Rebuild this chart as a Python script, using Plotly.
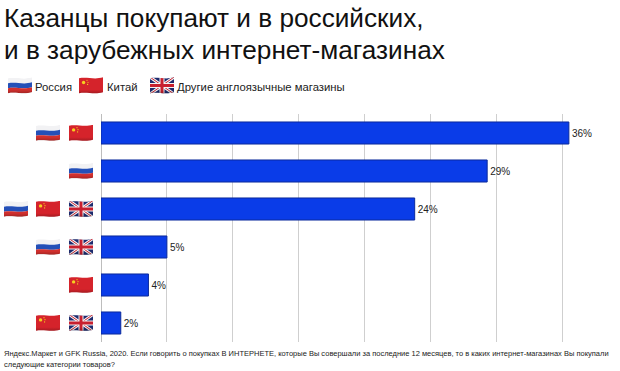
import base64
import plotly.graph_objects as go

# ---- data ----
categories = ["Россия + Китай", "Россия", "Россия + Китай + Другие", "Россия + Другие", "Китай", "Китай + Другие"]
values = [35.5, 29.3, 23.8, 5.0, 3.6, 1.5]
value_labels = ["36%", "29%", "24%", "5%", "4%", "2%"]
row_flags = [["ru", "cn"], ["ru"], ["ru", "cn", "gb"], ["ru", "gb"], ["cn"], ["cn", "gb"]]
legend_names = ["Россия", "Китай", "Другие англоязычные магазины"]
legend_flags = ["ru", "cn", "gb"]
title_lines = ["Казанцы покупают и в российских,", "и в зарубежных интернет-магазинах"]
note_lines = [
    "Яндекс.Маркет и GFK Russia, 2020. Если говорить о покупках В ИНТЕРНЕТЕ, которые Вы совершали за последние 12 месяцев, то в каких интернет-магазинах Вы покупали",
    "следующие категории товаров?",
]

W, H = 620, 371
PL, PR, PT, PB = 101, 616, 113.5, 342
FONT = "Liberation Sans, Arial, sans-serif"


def band(y0, y1):
    def edge(y):
        return f"C8,{y-1.8} 15,{y+1.8} 24,{y-1.0}"
    back = f"C15,{y1+1.8} 8,{y1-1.8} 0,{y1}"
    return f"M0,{y0} {edge(y0)} L24,{y1-1.0} {back} Z"


def flag_svg(kind):
    clip = band(1.2, 16.2)
    if kind == "ru":
        body = (
            f'<path d="{band(1.2,6.2)}" fill="#f2f2f4"/>'
            f'<path d="{band(6.2,11.2)}" fill="#2450b8"/>'
            f'<path d="{band(11.2,16.2)}" fill="#d2302e"/>'
        )
    elif kind == "cn":
        body = (
            '<rect width="24" height="18" fill="#d5232b"/>'
            '<circle cx="4.6" cy="5.4" r="1.7" fill="#f5d020"/>'
            '<circle cx="8" cy="3.2" r=".6" fill="#f5d020"/>'
            '<circle cx="9" cy="5.2" r=".6" fill="#f5d020"/>'
            '<circle cx="8.6" cy="7.4" r=".6" fill="#f5d020"/>'
        )
    else:
        body = (
            '<rect width="24" height="18" fill="#1d2a6e"/>'
            '<path d="M0,0 L24,17 M24,0 L0,17" stroke="#f4f4f4" stroke-width="3"/>'
            '<path d="M0,0 L24,17 M24,0 L0,17" stroke="#c8202f" stroke-width="1"/>'
            '<path d="M12,0 V18 M0,8.5 H24" stroke="#f4f4f4" stroke-width="5"/>'
            '<path d="M12,0 V18 M0,8.5 H24" stroke="#c8202f" stroke-width="3"/>'
        )
    svg = (
        '<svg xmlns="http://www.w3.org/2000/svg" width="240" height="170" viewBox="0 0 24 17">'
        f'<defs><clipPath id="c"><path d="{clip}"/></clipPath>'
        '<linearGradient id="g" x1="0" y1="0" x2="0" y2="1">'
        '<stop offset="0.75" stop-color="#000" stop-opacity="0"/>'
        '<stop offset="1" stop-color="#000" stop-opacity="0.28"/></linearGradient></defs>'
        f'<g clip-path="url(#c)">{body}<rect width="24" height="17" fill="url(#g)"/></g></svg>'
    )
    return "data:image/svg+xml;base64," + base64.b64encode(svg.encode()).decode()


def px(x):
    return (x - PL) / (PR - PL)


def py(y):
    return (PB - y) / (PB - PT)


images = []
for i, flags in enumerate(row_flags):
    n = len(flags)
    for j, f in enumerate(flags):
        left = [69, 36, 4][n - 1 - j]
        images.append(dict(source=flag_svg(f), xref="paper", yref="y", x=px(left), y=i,
                           sizex=24 / (PR - PL), sizey=17 / 38.1, xanchor="left", yanchor="middle",
                           sizing="stretch", layer="above"))

legend_x = [8, 79, 150]
legend_text_x = [33, 105, 175]
annotations = []
for f, x, tx, name in zip(legend_flags, legend_x, legend_text_x, legend_names):
    images.append(dict(source=flag_svg(f), xref="paper", yref="paper", x=px(x), y=py(85),
                       sizex=24 / (PR - PL), sizey=17 / (PB - PT), xanchor="left", yanchor="middle",
                       sizing="stretch", layer="above"))
    annotations.append(dict(text=name, xref="paper", yref="paper", x=px(tx), y=py(86), xanchor="left",
                            yanchor="middle", showarrow=False, font=dict(family=FONT, size=11.3, color="#222")))

for line, y in zip(title_lines, [17, 49]):
    annotations.append(dict(text=line, xref="paper", yref="paper", x=px(1.5), y=py(y), xanchor="left",
                            yanchor="middle", showarrow=False, font=dict(family=FONT, size=26.2, color="#111")))
for line, y in zip(note_lines, [354, 365]):
    annotations.append(dict(text=line, xref="paper", yref="paper", x=px(1.5), y=py(y), xanchor="left",
                            yanchor="middle", showarrow=False, font=dict(family=FONT, size=7.5, color="#222")))

fig = go.Figure(go.Bar(
    y=categories, x=values, orientation="h",
    marker=dict(color="#0a3ce8", line=dict(color="#0b2a9c", width=1)),
    text=value_labels, textposition="outside", cliponaxis=False,
    textfont=dict(family=FONT, size=10, color="#222"),
))
fig.update_layout(
    width=W, height=H, margin=dict(l=PL, r=W - PR, t=PT, b=H - PB, pad=0),
    paper_bgcolor="white", plot_bgcolor="white", showlegend=False, bargap=0.42,
    images=images, annotations=annotations,
    xaxis=dict(range=[0, 515 / 13.18], dtick=5, showgrid=True, gridcolor="#cfcfcf", gridwidth=1,
               showticklabels=False, zeroline=True, zerolinecolor="#bdbdbd", zerolinewidth=1, ticks=""),
    yaxis=dict(autorange="reversed", showticklabels=False, ticks="", showline=False, showgrid=False),
)
fig.write_html("out.html", config=dict(displayModeBar=False),
               post_script="document.body.style.margin='0';document.documentElement.style.margin='0';")
